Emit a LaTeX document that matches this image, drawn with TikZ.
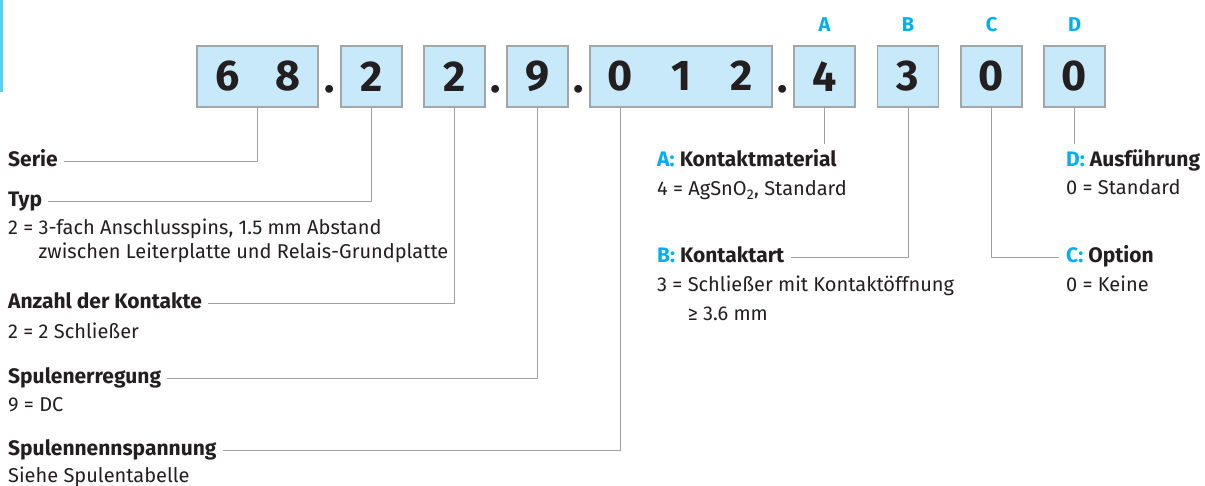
\documentclass[tikz,border=0pt]{standalone}
\usepackage{fontspec}
\setmainfont{Fira Sans}
\usetikzlibrary{positioning}
\definecolor{boxfill}{RGB}{200,233,250}
\definecolor{boxedge}{RGB}{165,165,165}
\definecolor{leadgray}{RGB}{160,160,160}
\definecolor{keycyan}{RGB}{0,174,239}
\definecolor{barcyan}{RGB}{90,208,240}
\definecolor{inkblack}{RGB}{35,31,32}

\begin{document}
\begin{tikzpicture}[x=1pt,y=-1pt,
    digitbox/.style={draw=boxedge, line width=1.5pt, fill=boxfill, minimum height=61pt, minimum width=61pt, inner sep=0pt, text=inkblack, font=\fontsize{43}{43}\selectfont\bfseries},
    sepdot/.style={anchor=base, inner sep=0pt, text=inkblack, font=\fontsize{43}{43}\selectfont\bfseries},
    keyletter/.style={anchor=base, inner sep=0pt, text=keycyan, font=\fontsize{20}{20}\selectfont\bfseries},
    keytitle/.style={anchor=base west, inner sep=0pt, text=inkblack, font=\fontsize{21}{21}\selectfont\bfseries},
    keytext/.style={anchor=base west, inner sep=0pt, text=inkblack, font=\fontsize{20}{20}\selectfont},
    leader/.style={draw=leadgray, line width=1pt}]
    \useasboundingbox (0,0) rectangle (1205,486);

    % side bar
    \fill[barcyan] (0,0) rectangle (3,92);

    % Code boxes
    \node[digitbox, minimum width=121pt] (b68) at (257.5,76.5) {\makebox[60.5pt]{6}\makebox[60.5pt]{8}};
    \node[digitbox] (b2a) at (371.5,76.5) {2};
    \node[digitbox] (b2b) at (454.5,76.5) {2};
    \node[digitbox] (b9) at (537.5,76.5) {9};
    \node[digitbox, minimum width=182pt] (b012) at (681,76.5) {\makebox[60.5pt]{0}\makebox[60.5pt]{1}\makebox[60.5pt]{2}};
    \node[digitbox] (bA) at (824.5,76.5) {4};
    \node[digitbox] (bB) at (908,76.5) {3};
    \node[digitbox] (bC) at (991.5,76.5) {0};
    \node[digitbox] (bD) at (1074.5,76.5) {0};

    % Dots
    \node[sepdot] (dot1) at (330,93) {.};
    \node[sepdot] (dot2) at (496,93) {.};
    \node[sepdot] (dot3) at (579,93) {.};
    \node[sepdot] (dot4) at (783,93) {.};

    % Option letters
    \node[keyletter] (kA) at (824.5,32) {A};
    \node[keyletter] (kB) at (908,32) {B};
    \node[keyletter] (kC) at (991.5,32) {C};
    \node[keyletter] (kD) at (1074.5,32) {D};

    % Left keys
    \node[keytitle] (serie) at (8,167) {Serie};
    \node[keytitle] (typ) at (8,207) {Typ};
    \node[keytext] (typ1) at (8,235) {2 = 3-fach Anschlusspins, 1.5 mm Abstand};
    \node[keytext] (typ2) at (8,259) {\phantom{2 = }zwischen Leiterplatte und Relais-Grundplatte};
    \node[keytitle] (anzahl) at (8,309) {Anzahl der Kontakte};
    \node[keytext] (anzahl1) at (8,338) {2 = 2 Schließer};
    \node[keytitle] (erreg) at (8,383) {Spulenerregung};
    \node[keytext] (erreg1) at (8,411) {9 = DC};
    \node[keytitle] (nennsp) at (8,455) {Spulennennspannung};
    \node[keytext] (nennsp1) at (8,482) {Siehe Spulentabelle};

    % Right keys
    \node[keytitle] (matA) at (657,167) {\textcolor{keycyan}{A:} Kontaktmaterial};
    \node[keytext] (matA1) at (657,196) {4 = AgSnO\textsubscript{2}, Standard};
    \node[keytitle] (artB) at (657,263) {\textcolor{keycyan}{B:} Kontaktart};
    \node[keytext] (artB1) at (657,292) {3 = Schließer mit Kontaktöffnung};
    \node[keytext] (artB2) at (657,320) {\phantom{3 = }≥ 3.6 mm};
    \node[keytitle] (ausfD) at (1066,167) {\textcolor{keycyan}{D:} Ausführung};
    \node[keytext] (ausfD1) at (1066,195) {0 = Standard};
    \node[keytitle] (optC) at (1066,263) {\textcolor{keycyan}{C:} Option};
    \node[keytext] (optC1) at (1066,292) {0 = Keine};

    % Leaders
    \draw[leader] (b68.south) |- ([xshift=6pt,yshift=5pt]serie.base east);
    \draw[leader] (b2a.south) |- ([xshift=6pt,yshift=5pt]typ.base east);
    \draw[leader] (b2b.south) |- ([xshift=6pt,yshift=5pt]anzahl.base east);
    \draw[leader] (b9.south) |- ([xshift=6pt,yshift=5pt]erreg.base east);
    \draw[leader] ([xshift=-61pt]b012.south) |- ([xshift=6pt,yshift=5pt]nennsp.base east);
    \draw[leader, shorten >=6pt] (bA.south) -- (bA.south |- matA.north);
    \draw[leader] (bB.south) |- ([xshift=6pt,yshift=5pt]artB.base east);
    \draw[leader] (bC.south) |- ([xshift=-7pt,yshift=5pt]optC.base west);
    \draw[leader, shorten >=6pt] (bD.south) -- (bD.south |- ausfD.north);
\end{tikzpicture}
\end{document}
